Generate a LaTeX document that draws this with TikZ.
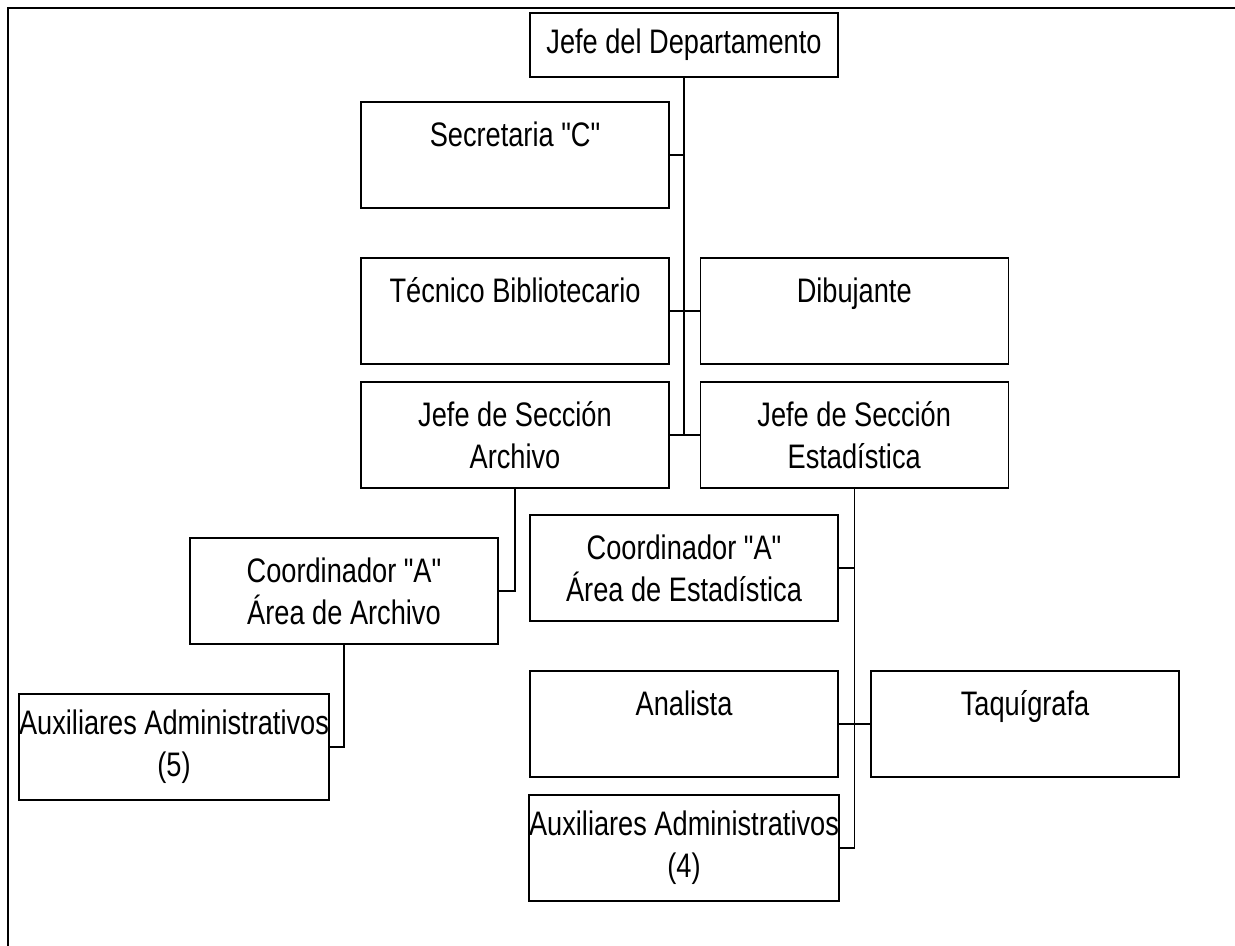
\documentclass[tikz,border=0pt]{standalone}
\usepackage{fontspec}
\setmainfont{Liberation Sans}[FakeStretch=0.8, Ligatures=TeXOff]
\usepackage{tikz}
\usetikzlibrary{positioning}

\begin{document}
\begin{tikzpicture}[
        x=0.5pt, y=-0.5pt,
        node distance=15pt,
        every node/.style={draw, rectangle, line width=0.6pt, inner sep=0pt,
            minimum width=154pt, minimum height=53pt, align=center,
            font=\fontsize{17}{21}\selectfont},
        line width=0.6pt
        ]
        \tikzstyle{top} = [minimum height=32pt];
        \useasboundingbox (0,0) rectangle (1235,946);

        % marco
        \draw [line width=1.3pt] (8,946) -- (8,8) -- (1235,8);

        \node[top] (jefe) at (684,45) {Jefe del Departamento};
        \node (sec) at (515,155) {Secretaria "C"\\\mbox{}};
        \node (tec) at (515,311) {Técnico Bibliotecario\\\mbox{}};
        \node [right=of tec] (dib) {Dibujante\\\mbox{}};
        \node (jsa) at (515,435) {Jefe de Sección\\Archivo};
        \node [right=of jsa] (jse) {Jefe de Sección\\Estadística};

        \node (caa) at (344,591) {Coordinador "A"\\Área de Archivo};
        \node (aux5) at (174,747) {Auxiliares Administrativos\\(5)};

        \node (cae) at (684,568) {Coordinador "A"\\Área de Estadística};
        \node (ana) at (684,724) {Analista\\\mbox{}};
        \node (taq) at (1025,724) {Taquígrafa\\\mbox{}};
        \node (aux4) at (684,848) {Auxiliares Administrativos\\(4)};

        \draw (jefe.south) -- (jefe.south |- jsa.east);
        \draw (sec.east) -- (sec.east -| jefe.south);
        \draw (tec.east) -- (dib.west);
        \draw (jsa.east) -- (jse.west);

        \draw (jsa.south) |- (caa.east);
        \draw (caa.south) |- (aux5.east);

        \draw (jse.south) |- (aux4.east);
        \draw (cae.east) -- (cae.east -| jse.south);
        \draw (ana.east) -- (taq.west);
    \end{tikzpicture}
\end{document}
